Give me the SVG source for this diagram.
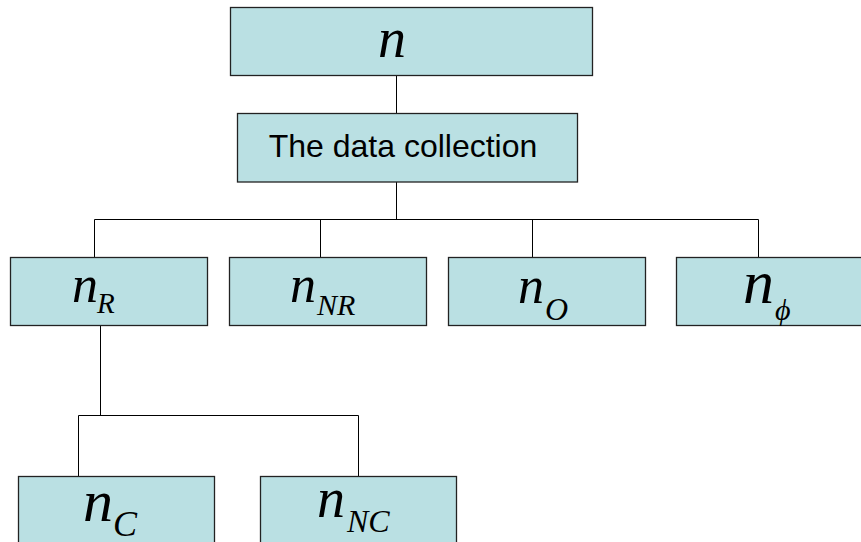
<svg xmlns="http://www.w3.org/2000/svg" width="861" height="542" viewBox="0 0 861 542">
<style>
.box{fill:#BAE0E3;stroke:#222;stroke-width:1.3}
.ln{fill:none;stroke:#000;stroke-width:1}
.m{font-family:"Liberation Serif","Times New Roman",serif;font-style:italic;fill:#000}
.t{font-family:"Liberation Sans",Arial,sans-serif;fill:#000}
</style>
<rect width="861" height="542" fill="#fff"/>
<g id="connectors">
<path class="ln" d="M396.5 75.5V113.5M396.5 182V219.5M94.5 219.5H758.5M94.5 219.5V257M320.5 219.5V257M532.5 219.5V257M758.5 219.5V257"/>
<path class="ln" d="M100.5 325V415.5M78.5 415.5H358.5M78.5 415.5V476M358.5 415.5V476"/>
</g>
<g id="n">
<rect class="box" x="230.5" y="7.5" width="362" height="68"/>
<text class="m" x="378" y="57" font-size="56">n</text>
</g>
<g id="data">
<rect class="box" x="237.5" y="113.5" width="340" height="68.5"/>
<text class="t" x="403" y="157" font-size="32" text-anchor="middle">The data collection</text>
</g>
<g id="nR">
<rect class="box" x="10.5" y="257.5" width="197" height="68"/>
<text class="m" x="72" y="302" font-size="52">n<tspan x="97" y="313" font-size="29">R</tspan></text>
</g>
<g id="nNR">
<rect class="box" x="229.5" y="257.5" width="197" height="68"/>
<text class="m" x="290" y="302" font-size="52">n<tspan x="317" y="315" font-size="30">NR</tspan></text>
</g>
<g id="nO">
<rect class="box" x="448.5" y="257.5" width="197" height="68"/>
<text class="m" x="518" y="303" font-size="52">n<tspan x="545" y="320" font-size="32">O</tspan></text>
</g>
<g id="nphi">
<rect class="box" x="676.5" y="257.5" width="200" height="68"/>
<text class="m" x="743" y="303" font-size="62">n<tspan x="775" y="320" font-size="30">ϕ</tspan></text>
</g>
<g id="nC">
<rect class="box" x="18.5" y="476.5" width="196" height="80"/>
<text class="m" x="83" y="521" font-size="60">n<tspan x="113" y="536" font-size="36">C</tspan></text>
</g>
<g id="nNC">
<rect class="box" x="260.5" y="476.5" width="196" height="80"/>
<text class="m" x="317" y="517" font-size="56">n<tspan x="347" y="532" font-size="32">NC</tspan></text>
</g>
</svg>
